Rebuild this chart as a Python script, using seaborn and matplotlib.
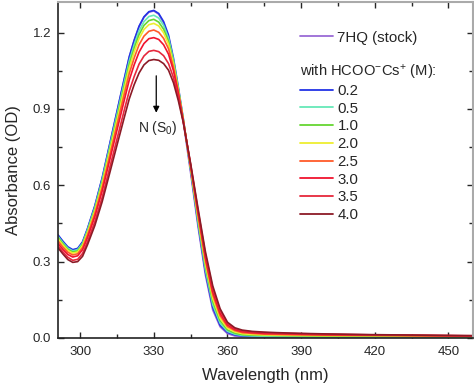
import matplotlib
matplotlib.use("Agg")
import matplotlib.pyplot as plt
from matplotlib.lines import Line2D
from matplotlib.ticker import MultipleLocator, FormatStrFormatter
import pandas as pd
import seaborn as sns

# wavelength grid (nm)
wavelength = [291, 293, 295, 297, 299, 301, 303, 306, 309, 312, 315, 318, 320, 322, 324, 326, 328, 330,
              332, 334, 336, 338, 340, 342, 345, 348, 351, 354, 357, 360, 363, 366, 370, 375, 380, 390,
              400, 420, 440, 460]

# absorbance (OD)
stock = [0.403, 0.378, 0.356, 0.345, 0.350, 0.376, 0.428, 0.518, 0.628, 0.758, 0.888, 1.018, 1.103, 1.168, 1.223, 1.260, 1.280, 1.285,
         1.272, 1.238, 1.182, 1.090, 0.973, 0.850, 0.648, 0.438, 0.248, 0.110, 0.044, 0.017, 0.008, 0.005, 0.004, 0.003, 0.003, 0.002,
         0.002, 0.002, 0.001, 0.001]
c02 = [0.405, 0.380, 0.358, 0.347, 0.352, 0.378, 0.430, 0.520, 0.630, 0.760, 0.890, 1.020, 1.105, 1.170, 1.225, 1.262, 1.282, 1.287,
       1.275, 1.243, 1.190, 1.100, 0.985, 0.862, 0.660, 0.450, 0.260, 0.120, 0.050, 0.022, 0.012, 0.008, 0.006, 0.005, 0.005, 0.004,
       0.004, 0.003, 0.003, 0.002]
c05 = [0.399, 0.374, 0.353, 0.342, 0.347, 0.372, 0.424, 0.512, 0.621, 0.749, 0.877, 1.005, 1.088, 1.152, 1.207, 1.243, 1.263, 1.268,
       1.257, 1.228, 1.178, 1.092, 0.980, 0.860, 0.663, 0.457, 0.270, 0.131, 0.058, 0.026, 0.015, 0.010, 0.008, 0.007, 0.006, 0.005,
       0.005, 0.004, 0.004, 0.003]
c10 = [0.394, 0.370, 0.348, 0.338, 0.342, 0.368, 0.418, 0.506, 0.613, 0.739, 0.866, 0.992, 1.075, 1.138, 1.192, 1.228, 1.247, 1.252,
       1.241, 1.213, 1.166, 1.084, 0.976, 0.858, 0.667, 0.466, 0.282, 0.144, 0.068, 0.032, 0.019, 0.013, 0.011, 0.010, 0.009, 0.008,
       0.007, 0.007, 0.006, 0.005]
c20 = [0.389, 0.365, 0.344, 0.333, 0.338, 0.363, 0.413, 0.499, 0.605, 0.730, 0.854, 0.979, 1.061, 1.123, 1.176, 1.212, 1.231, 1.236,
       1.226, 1.199, 1.154, 1.076, 0.972, 0.857, 0.670, 0.474, 0.293, 0.156, 0.077, 0.038, 0.024, 0.017, 0.014, 0.012, 0.011, 0.010,
       0.009, 0.009, 0.008, 0.006]
c25 = [0.381, 0.357, 0.337, 0.326, 0.331, 0.355, 0.404, 0.489, 0.592, 0.714, 0.837, 0.959, 1.039, 1.100, 1.152, 1.186, 1.205, 1.210,
       1.201, 1.177, 1.136, 1.064, 0.966, 0.855, 0.674, 0.484, 0.306, 0.170, 0.088, 0.045, 0.029, 0.021, 0.018, 0.015, 0.014, 0.012,
       0.011, 0.010, 0.009, 0.007]
c30 = [0.371, 0.348, 0.328, 0.318, 0.323, 0.347, 0.394, 0.477, 0.578, 0.697, 0.816, 0.935, 1.013, 1.073, 1.123, 1.157, 1.176, 1.180,
       1.173, 1.152, 1.115, 1.050, 0.960, 0.853, 0.678, 0.494, 0.318, 0.182, 0.097, 0.051, 0.033, 0.025, 0.021, 0.018, 0.017, 0.015,
       0.013, 0.011, 0.010, 0.008]
c35 = [0.362, 0.338, 0.317, 0.305, 0.309, 0.332, 0.378, 0.457, 0.553, 0.667, 0.781, 0.896, 0.970, 1.027, 1.076, 1.108, 1.126, 1.130,
       1.125, 1.109, 1.078, 1.023, 0.945, 0.850, 0.682, 0.502, 0.330, 0.195, 0.107, 0.057, 0.037, 0.028, 0.024, 0.021, 0.019, 0.017,
       0.015, 0.012, 0.010, 0.009]
c40 = [0.354, 0.330, 0.308, 0.297, 0.300, 0.321, 0.366, 0.442, 0.536, 0.646, 0.757, 0.867, 0.939, 0.995, 1.041, 1.073, 1.090, 1.094,
       1.091, 1.078, 1.052, 1.003, 0.932, 0.847, 0.685, 0.510, 0.340, 0.205, 0.115, 0.062, 0.040, 0.031, 0.026, 0.023, 0.021, 0.018,
       0.016, 0.013, 0.011, 0.009]

series_names = ["7HQ (stock)", "0.2", "0.5", "1.0", "2.0", "2.5", "3.0", "3.5", "4.0"]
series_values = [stock, c02, c05, c10, c20, c25, c30, c35, c40]
series_colors = ["#9a6ad6", "#2233e6", "#66e8b8", "#66d632", "#eeee30",
                 "#ff5a2a", "#f0142e", "#e6283c", "#8c1a26"]

rows = []
for name, vals in zip(series_names, series_values):
    for w, a in zip(wavelength, vals):
        rows.append({"wavelength": w, "absorbance": a, "series": name})
df = pd.DataFrame(rows)

sns.set_style("ticks")
plt.rcParams["font.family"] = ["Liberation Sans", "DejaVu Sans"]
plt.rcParams["mathtext.fontset"] = "custom"
plt.rcParams["mathtext.rm"] = "Liberation Sans"
plt.rcParams["mathtext.it"] = "Liberation Sans:italic"

fig, ax = plt.subplots(figsize=(4.74, 3.86), dpi=100)
fig.subplots_adjust(left=0.1224, right=0.998, bottom=0.1244, top=0.9948)

palette = dict(zip(series_names, series_colors))
sns.lineplot(data=df, x="wavelength", y="absorbance", hue="series",
             hue_order=series_names, palette=palette, linewidth=1.2,
             legend=False, ax=ax)

ax.set_xlim(291, 460)
ax.set_ylim(0, 1.32)
ax.xaxis.set_major_locator(MultipleLocator(30))
ax.xaxis.set_minor_locator(MultipleLocator(15))
ax.yaxis.set_major_locator(MultipleLocator(0.3))
ax.yaxis.set_minor_locator(MultipleLocator(0.15))
ax.yaxis.set_major_formatter(FormatStrFormatter("%.1f"))
ax.tick_params(which="both", direction="in", top=True, right=True, labelsize=9.5, width=1.0)
ax.tick_params(which="major", length=4.5)
ax.tick_params(axis="x", which="major", pad=6)
ax.tick_params(axis="y", which="major", pad=5)
ax.tick_params(which="minor", length=3)
ax.set_xlabel("Wavelength (nm)", fontsize=12, labelpad=7)
ax.set_ylabel("Absorbance (OD)", fontsize=12, labelpad=8)
for side in ["left", "bottom"]:
    ax.spines[side].set_linewidth(1.2)
    ax.spines[side].set_color("#222222")
for side in ["top", "right"]:
    ax.spines[side].set_linewidth(1.5)
    ax.spines[side].set_color("#aaaaaa")

# arrow and state label
ax.annotate("", xy=(331, 0.885), xytext=(331, 1.03),
            arrowprops=dict(arrowstyle="-|>", color="black", lw=0.9,
                            mutation_scale=9, shrinkA=0, shrinkB=0))
ax.text(331.5, 0.826, "N (S$_0$)", ha="center", va="center", fontsize=10)

# legend: stock, blank row, placeholder row for the header, concentrations
handles = [Line2D([], [], color=c, lw=1.3) for c in series_colors]
blank = Line2D([], [], color="none")
header = "with HCOO$^{-}$Cs$^{+}$ (M):"
leg = ax.legend([handles[0], blank, blank] + handles[1:],
                [series_names[0], " ", "0"] + series_names[1:],
                loc="upper left", bbox_to_anchor=(0.583, 0.915),
                frameon=False, fontsize=10.8, handlelength=2.2,
                handletextpad=0.3, labelspacing=0.25, borderpad=0,
                borderaxespad=0)

# write the header on the placeholder row, starting where the legend lines start
fig.canvas.draw()
renderer = fig.canvas.get_renderer()
placeholder = leg.get_texts()[2]
box = placeholder.get_window_extent(renderer)
_, _, descent = renderer.get_text_width_height_descent(
    "0", placeholder.get_fontproperties(), ismath=False)
line_x0 = leg.legend_handles[0].get_window_extent(renderer).x0
placeholder.set_visible(False)
placeholder.set_text("")
fig.text(line_x0 / fig.bbox.width, (box.y0 + descent + 3) / fig.bbox.height, header,
         fontsize=10.6, ha="left", va="baseline")

fig.savefig("out.png", dpi=100)
